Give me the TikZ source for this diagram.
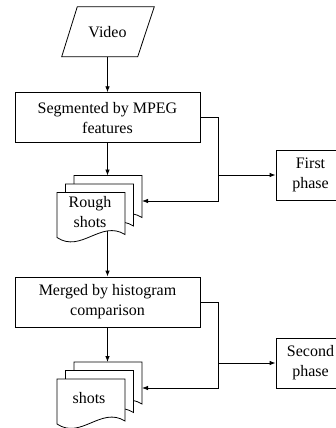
\documentclass[tikz,border=0pt]{standalone}
\usepackage{fontspec}
\setmainfont{Liberation Serif}
\usetikzlibrary{arrows.meta,calc}
\tikzset{
  line/.style={line width=0.8pt, draw=black},
  sheetline/.style={line, fill=white},
  txt/.style={font=\fontsize{16}{20}\selectfont, align=center, inner sep=0pt},
  proc/.style={line, txt, minimum width=185pt, minimum height=50pt},
  phasebox/.style={line, txt, minimum width=69pt, minimum height=50pt},
  flow/.style={line, -{Latex[length=6pt,width=4.5pt]}}
}
% one page of a multi-document stack, top-left corner at (#1,#2)
\newcommand\docsheet[2]{%
  \draw[sheetline, shift={(#1,#2)}] (0,0) -- (68,0) -- (68,42)
    .. controls (44,27) and (24,61) .. (0,45) -- cycle;}
\begin{document}
\begin{tikzpicture}[x=1pt, y=-1pt]
\useasboundingbox (0,0) rectangle (335,428);

% input
\draw[line] (77.3,6.7) -- (154.3,6.7) -- (137.7,56.7) -- (61.7,56.7) -- cycle;
\node[txt, minimum height=50pt] (video) at (107.5,31.7) {Video};

% first stage
\node[proc] (seg) at (107.5,117.7) {Segmented by MPEG\\features};
\docsheet{74}{175.5}
\docsheet{65.5}{184}
\docsheet{57}{192.5}
\node[txt] (rough) at (90,212) {Rough\\shots};
\coordinate (r1top) at (107.5,175.5);
\coordinate (r1side) at (142,201);
\coordinate (r1bot) at (107.5,230.9);
\node[phasebox] (first) at (310.5,175) {First\\phase};

% second stage
\node[proc] (merge) at (107.5,302) {Merged by histogram\\comparison};
\docsheet{74}{362}
\docsheet{65.5}{370.5}
\docsheet{57}{379}
\node[txt] (shots) at (89,398) {shots};
\coordinate (r2top) at (107.5,362);
\coordinate (r2side) at (142,388);
\node[phasebox] (second) at (310.5,363) {Second\\phase};

% connectors
\draw[flow] (video.south) -- (seg.north);
\draw[flow] (seg.south) -- (r1top);
\coordinate (j1) at ($(seg.east)+(18,0)$);
\draw[flow] (seg.east) -- (j1) |- (r1side);
\draw[flow] (first.west -| j1) -- (first.west);
\draw[flow] (r1bot) -- (merge.north);
\draw[flow] (merge.south) -- (r2top);
\coordinate (j2) at ($(merge.east)+(18,0)$);
\draw[flow] (merge.east) -- (j2) |- (r2side);
\draw[flow] (second.west -| j2) -- (second.west);
\end{tikzpicture}
\end{document}
